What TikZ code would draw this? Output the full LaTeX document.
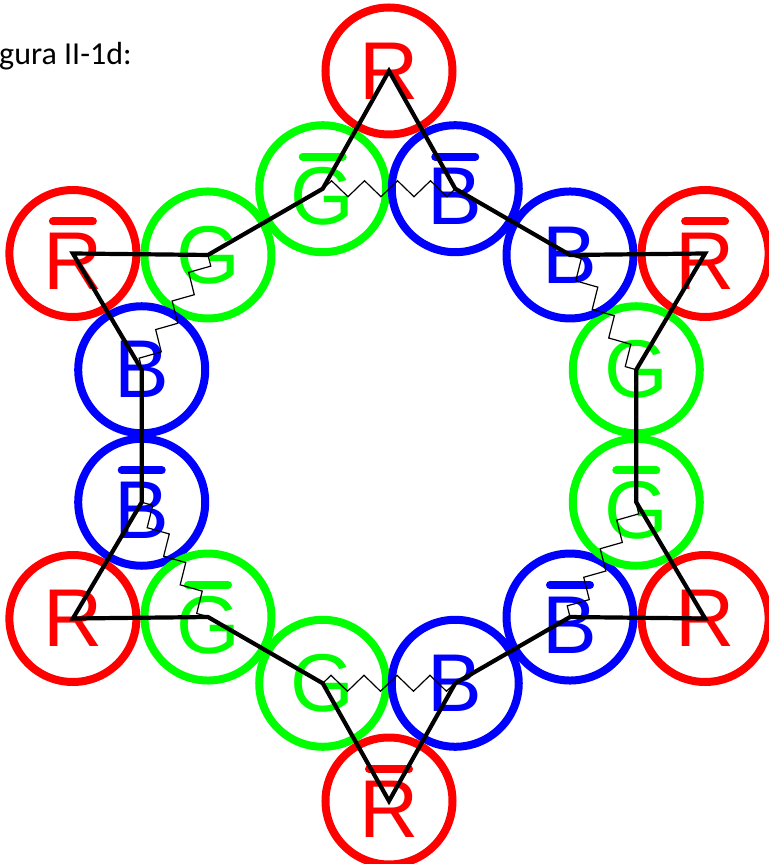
\documentclass[tikz,border=0pt]{standalone}
\usepackage{fontspec}
\newfontfamily\quarkfont{Liberation Sans}
\newfontfamily\captionfont{Carlito}
\usetikzlibrary{decorations.pathmorphing}

\begin{document}
\begin{tikzpicture}[x=1pt, y=1pt,
	quark/.style={circle, draw=#1, text=#1, line width=8pt, minimum size=127pt, inner sep=0pt, font=\quarkfont\fontsize{82}{90}\selectfont},
	antiquark/.style={quark=#1, text height=72pt, text depth=0pt},
	overbar/.style={draw=#1, line width=8pt, line cap=round},
	bond/.style={line width=4.2pt, line join=miter},
	spring/.style={line width=1.2pt, decorate, decoration={zigzag, amplitude=8pt, segment length=33pt}}
	]
	
	% ---- Frame ----
	\useasboundingbox (-389,-428) rectangle (379,436);
	
	% ---- Adjustable colors ----
	\def\colorR{red}
	\def\colorG{green}
	\def\colorB{blue}
	
	% ---- Caption ----
	\node[font=\captionfont\fontsize{32}{38}\selectfont, anchor=base west, inner sep=0pt] (caption) at (-390,371) {gura II-1d:};
	
	% ---- Quarks (star tips at 365, inner ring at 256) ----
	\foreach \i/\angle/\r/\letter/\col in {
		1/90/365/R/\colorR,
		3/135/256/G/\colorG,
		5/165/256/B/\colorB,
		7/210/365/R/\colorR,
		9/255/256/G/\colorG,
		11/285/256/B/\colorB,
		13/330/365/R/\colorR,
		15/15/256/G/\colorG,
		17/45/256/B/\colorB
	}
	{
		\node[quark=\col] (q\i) at (\angle:\r) {\letter};
	}
	
	% ---- Antiquarks ----
	\foreach \i/\angle/\r/\letter/\col in {
		2/105/256/G/\colorG,
		4/150/365/R/\colorR,
		6/195/256/B/\colorB,
		8/225/256/G/\colorG,
		10/270/365/R/\colorR,
		12/315/256/B/\colorB,
		14/345/256/G/\colorG,
		16/30/365/R/\colorR,
		18/75/256/B/\colorB
	}
	{
		\node[antiquark=\col] (q\i) at (\angle:\r) {\letter};
		\draw[overbar=\col] (q\i) ++(-20,32) -- ++(40,0);
	}
	
	% ---- Star outline ----
	\draw[bond] (q1.center) \foreach \i in {2,...,18}{ -- (q\i.center)} -- cycle;
	
	% ---- Springs ----
	\foreach \a/\b in {3/5, 6/8, 9/11, 12/14, 15/17, 18/2}
	\draw[spring] (q\a.center) -- (q\b.center);
	
\end{tikzpicture}
\end{document}
